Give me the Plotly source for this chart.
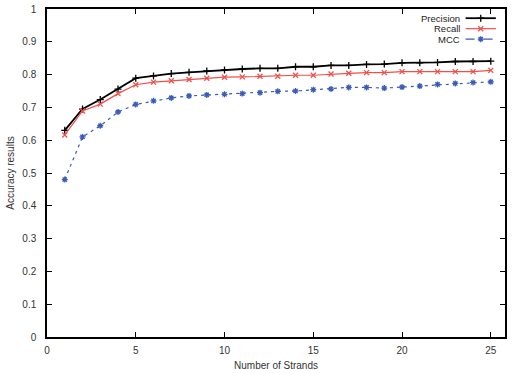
import plotly.graph_objects as go

strands = list(range(1, 26))
precision = [0.630, 0.695, 0.724, 0.756, 0.789, 0.796, 0.803, 0.807, 0.811, 0.814, 0.817, 0.819,
             0.819, 0.824, 0.824, 0.828, 0.828, 0.831, 0.832, 0.836, 0.836, 0.837, 0.840, 0.840, 0.841]
recall = [0.616, 0.689, 0.710, 0.742, 0.769, 0.777, 0.781, 0.785, 0.789, 0.792, 0.793, 0.795,
          0.795, 0.798, 0.798, 0.802, 0.804, 0.806, 0.806, 0.809, 0.809, 0.809, 0.809, 0.809, 0.813]
mcc = [0.480, 0.610, 0.644, 0.686, 0.709, 0.720, 0.729, 0.735, 0.738, 0.740, 0.742, 0.745,
       0.749, 0.750, 0.754, 0.756, 0.761, 0.761, 0.759, 0.762, 0.765, 0.770, 0.773, 0.776, 0.778]

series_names = ["Precision", "Recall", "MCC"]
colors = ["#000000", "#f0504a", "#3a5cb8"]
symbols = ["cross-thin", "x-thin", "asterisk"]
widths = [1.8, 1.2, 1.2]
dashes = ["solid", "solid", "3px,4px"]

FONT = "Liberation Sans, Arial, Helvetica, sans-serif"

fig = go.Figure()
for name, ys, c, s, w, d in zip(series_names, [precision, recall, mcc], colors, symbols, widths, dashes):
    fig.add_trace(go.Scatter(
        x=strands, y=ys, mode="lines+markers", name=name,
        line=dict(color=c, width=w, dash=d),
        marker=dict(symbol=s, size=5, color=c, line=dict(color=c, width=1.3)),
        showlegend=False,
    ))

# custom gnuplot-style legend (text on left, sample on right)
legend_y = [0.972, 0.940, 0.908]
for name, c, s, w, d, ly in zip(series_names, colors, symbols, widths, dashes, legend_y):
    fig.add_annotation(x=0.903, y=ly, xref="paper", yref="paper", text=name, showarrow=False,
                       xanchor="right", yanchor="middle", borderpad=0,
                       font=dict(family=FONT, size=9.5, color="#222"))
    fig.add_shape(type="line", xref="paper", yref="paper", x0=0.914, x1=0.980, y0=ly, y1=ly,
                  line=dict(color=c, width=w, dash="dash" if d != "solid" else "solid"))

fig.add_trace(go.Scatter(
    x=[0.947] * 3, y=legend_y, xaxis="x2", yaxis="y2", mode="markers",
    marker=dict(symbol=symbols, size=5, color=colors, line=dict(color=colors, width=1.3)),
    showlegend=False, hoverinfo="skip",
))

axis_common = dict(
    showgrid=False, zeroline=False, showline=True, linecolor="#000", linewidth=1.5,
    mirror="ticks", ticks="inside", ticklen=5, tickwidth=1, tickcolor="#000",
    tickfont=dict(family=FONT, size=10, color="#333"), automargin=False,
)

fig.update_layout(
    width=515, height=374,
    margin=dict(l=47, r=10, t=9, b=37),
    paper_bgcolor="white", plot_bgcolor="white",
    xaxis=dict(range=[0, 25.8], tickvals=[0, 5, 10, 15, 20, 25], ticklabelstandoff=3, **axis_common,
               title=dict(text="Number of Strands", font=dict(family=FONT, size=10, color="#333"), standoff=7)),
    yaxis=dict(range=[0, 1], tickvals=[i / 10 for i in range(11)],
               ticktext=["0", "0.1", "0.2", "0.3", "0.4", "0.5", "0.6", "0.7", "0.8", "0.9", "1"],
               ticklabelstandoff=7, **axis_common,
               title=dict(text="Accuracy results", font=dict(family=FONT, size=10, color="#333"), standoff=6)),
    xaxis2=dict(range=[0, 1], overlaying="x", visible=False),
    yaxis2=dict(range=[0, 1], overlaying="y", visible=False),
)

fig.write_html("out.html")
